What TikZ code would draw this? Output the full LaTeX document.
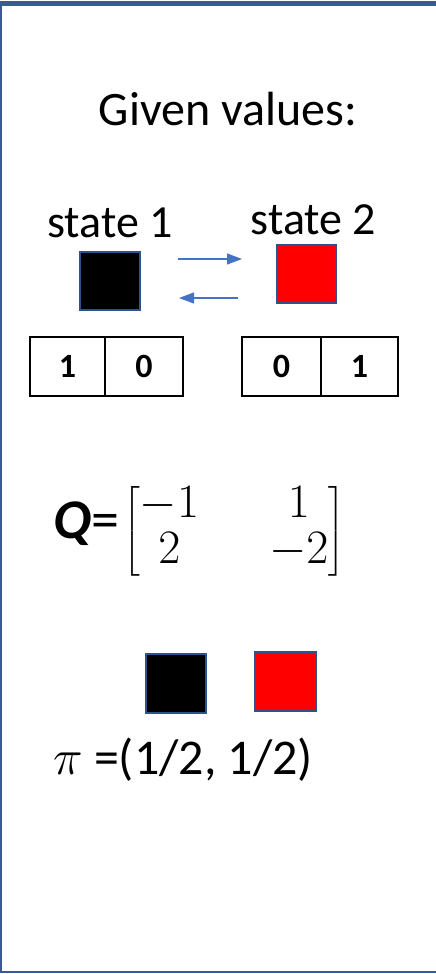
\documentclass[tikz,border=0pt]{standalone}
\usepackage{fix-cm}
\usepackage{amsmath}
\usepackage{fontspec}
\setmainfont{Carlito}
\usetikzlibrary{arrows.meta}
\definecolor{frameblue}{RGB}{59,89,152}
\definecolor{sqblue}{RGB}{47,82,143}
\definecolor{arrblue}{RGB}{68,114,196}
\definecolor{sqred}{RGB}{255,0,0}
\begin{document}
\begin{tikzpicture}[x=1pt,y=-1pt,
  sq/.style={draw=sqblue,line width=2pt,inner sep=0pt},
  cell/.style={draw=black,line width=1.5pt,minimum height=59pt,inner sep=0pt,
    font=\fontsize{34}{40}\selectfont\bfseries},
  lbl/.style={anchor=base,inner sep=0pt,font=\fontsize{46}{54}\selectfont},
  arr/.style={arrblue,line width=1.2pt,-{Triangle[length=15pt,width=11pt]}}]
\useasboundingbox (0,0) rectangle (436,974);
% frame
\draw[frameblue,line width=5pt] (0,3.5) -- (436,3.5);
\draw[frameblue,line width=2pt] (1,1) -- (1,973);
\draw[frameblue,line width=2pt] (0,972) -- (436,972);
% title
\node[lbl,font=\fontsize{48}{56}\selectfont] (title) at (228,125) {Given values:};
% states
\node[lbl] (st1) at (110,237) {state 1};
\node[lbl] (st2) at (313.5,234) {state 2};
\node[sq,fill=black,minimum width=60pt,minimum height=58pt] (s1) at (110,281) {};
\node[sq,fill=sqred,minimum width=59pt,minimum height=58pt] (s2) at (306.5,274) {};
\coordinate (a1s) at (178,259);
\coordinate (a1e) at (242,259);
\coordinate (a2s) at (238,298);
\coordinate (a2e) at (179,298);
\draw[arr] (a1s) -- (a1e);
\draw[arr] (a2s) -- (a2e);
% vectors
\node[cell,minimum width=75pt] (v11) at (67.5,366.5) {1};
\node[cell,minimum width=78pt] (v12) at (144,366.5) {0};
\node[cell,minimum width=79pt] (v21) at (281.5,366.5) {0};
\node[cell,minimum width=77pt] (v22) at (359.5,366.5) {1};
% matrix
\node[anchor=base west,inner sep=0pt,font=\fontsize{56}{60}\selectfont] (q) at (53,538) {\textbf{\textit{Q}}=};
\node[anchor=west,inner sep=0pt,font=\fontsize{48}{46}\selectfont] (mat) at (123,531)
  {\setlength\arraycolsep{35pt}$\left[\begin{matrix}-1 & 1\\ 2 & -2\end{matrix}\right]$};
% stationary
\node[sq,fill=black,minimum width=60pt,minimum height=59pt] (p1) at (176,683.5) {};
\node[sq,fill=sqred,minimum width=61pt,minimum height=59pt] (p2) at (285.5,681.5) {};
\node[anchor=base west,inner sep=0pt,font=\fontsize{50}{58}\selectfont] (pi) at (53,774) {$\pi$ =(1/2, 1/2)};
\end{tikzpicture}
\end{document}
